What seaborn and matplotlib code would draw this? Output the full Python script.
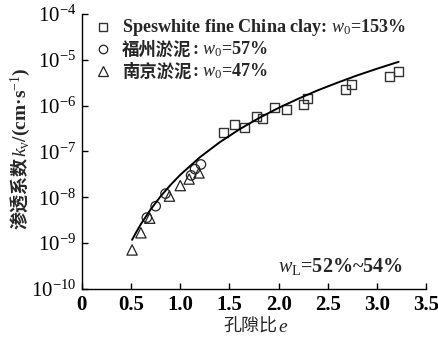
import numpy as np
import pandas as pd
import matplotlib
matplotlib.use("Agg")
import matplotlib.pyplot as plt
import seaborn as sns
from matplotlib.lines import Line2D
from matplotlib.transforms import IdentityTransform
from matplotlib.ticker import FixedLocator, FixedFormatter, NullLocator

# Speswhite fine China clay (w0 = 153%)
e_sp = [1.44, 1.55, 1.65, 1.77, 1.84, 1.96, 2.08, 2.25, 2.29, 2.68, 2.74, 3.13, 3.22]
k_sp = [2.6e-7, 3.8e-7, 3.4e-7, 5.8e-7, 5.1e-7, 8.9e-7, 8.4e-7, 1.07e-6, 1.41e-6,
        2.2e-6, 2.85e-6, 4.2e-6, 5.6e-6]

# Fuzhou silt (w0 = 57%)
e_fz = [0.66, 0.75, 0.85, 1.11, 1.15, 1.21]
k_fz = [3.6e-9, 6.4e-9, 1.2e-8, 3.0e-8, 4.1e-8, 5.2e-8]

# Nanjing silt (w0 = 47%)
e_nj = [0.51, 0.60, 0.69, 0.89, 1.00, 1.09, 1.19]
k_nj = [7.1e-10, 1.68e-9, 3.5e-9, 1.06e-8, 1.8e-8, 2.5e-8, 3.4e-8]

# Trend line through all data
e_fit = [0.51, 0.55, 0.60, 0.70, 0.80, 0.90, 1.00, 1.20, 1.40, 1.60, 1.80, 2.00,
         2.20, 2.40, 2.60, 2.80, 3.00, 3.22]
k_fit = [1.18e-9, 1.70e-9, 2.60e-9, 5.48e-9, 1.05e-8, 1.85e-8, 3.09e-8, 7.48e-8,
         1.58e-7, 3.02e-7, 5.35e-7, 8.91e-7, 1.41e-6, 2.16e-6, 3.17e-6, 4.56e-6,
         6.36e-6, 9.00e-6]

x_ticks = [0, 0.5, 1.0, 1.5, 2.0, 2.5, 3.0, 3.5]
x_labels = ["0", "0.5", "1.0", "1.5", "2.0", "2.5", "3.0", "3.5"]
y_ticks = [1e-10, 1e-9, 1e-8, 1e-7, 1e-6, 1e-5, 1e-4]
y_labels = ["$\\mathdefault{10^{-10}}$", "$\\mathdefault{10^{-9}}$", "$\\mathdefault{10^{-8}}$",
            "$\\mathdefault{10^{-7}}$", "$\\mathdefault{10^{-6}}$", "$\\mathdefault{10^{-5}}$",
            "$\\mathdefault{10^{-4}}$"]

SERIF = ["Liberation Serif"]
CJK = ["Noto Sans CJK SC"]

sns.set_theme(style="ticks")
plt.rcParams["font.family"] = ["Liberation Serif", "Noto Sans CJK SC", "DejaVu Sans"]
plt.rcParams["mathtext.fontset"] = "custom"
plt.rcParams["mathtext.rm"] = "Liberation Serif"
plt.rcParams["mathtext.it"] = "Liberation Serif:italic"
plt.rcParams["mathtext.bf"] = "Liberation Serif:bold"
plt.rcParams["axes.unicode_minus"] = True

W, H = 438, 338
fig = plt.figure(figsize=(W / 100, H / 100), dpi=100)
ax = fig.add_axes([0.187, 0.145, 0.786, 0.814])

df_sp = pd.DataFrame({"e": e_sp, "k": k_sp})
df_fz = pd.DataFrame({"e": e_fz, "k": k_fz})
df_nj = pd.DataFrame({"e": e_nj, "k": k_nj})
df_fit = pd.DataFrame({"e": e_fit, "k": k_fit})

sq_style = dict(marker="s", s=42, facecolor="none", edgecolor="#333333", linewidth=1.0)
ci_style = dict(marker="o", s=46, facecolor="none", edgecolor="#222222", linewidth=0.9)
tr_style = dict(marker="^", s=55, facecolor="none", edgecolor="#222222", linewidth=0.9)

sns.lineplot(data=df_fit, x="e", y="k", ax=ax, color="black", lw=1.4, sort=False)
sns.scatterplot(data=df_sp, x="e", y="k", ax=ax, legend=False, **sq_style)
sns.scatterplot(data=df_fz, x="e", y="k", ax=ax, legend=False, **ci_style)
sns.scatterplot(data=df_nj, x="e", y="k", ax=ax, legend=False, **tr_style)

ax.set_yscale("log")
ax.set_xlim(0, 3.5)
ax.set_ylim(1e-10, 1e-4)
ax.xaxis.set_major_locator(FixedLocator(x_ticks))
ax.xaxis.set_major_formatter(FixedFormatter(x_labels))
ax.yaxis.set_major_locator(FixedLocator(y_ticks))
ax.yaxis.set_major_formatter(FixedFormatter(y_labels))
ax.yaxis.set_minor_locator(NullLocator())
ax.set_xlabel("")
ax.set_ylabel("")

for side in ("top", "right"):
    ax.spines[side].set_visible(False)
for side in ("left", "bottom"):
    ax.spines[side].set_color("black")
    ax.spines[side].set_linewidth(1.0)

ax.tick_params(axis="both", direction="in", length=4.5, width=1.0, colors="black", pad=4)
ax.tick_params(axis="x", labelsize=15)
ax.tick_params(axis="y", labelsize=15)
for lab in ax.get_xticklabels():
    lab.set_fontweight("bold")

renderer = fig.canvas.get_renderer()


def text_run(pieces, x, y, rotation=0, align="left"):
    """Place text pieces one after another on a shared baseline (pixel coords)."""
    arts = []
    for s, kw in pieces:
        t = fig.text(0, 0, s, transform=IdentityTransform(), ha="left", va="baseline",
                     rotation=rotation, rotation_mode="anchor", **kw)
        arts.append(t)
    lengths = []
    for t in arts:
        bb = t.get_window_extent(renderer)
        lengths.append(bb.height if rotation == 90 else bb.width)
    total = sum(lengths)
    pos = -total / 2 if align == "center" else 0.0
    for t, L in zip(arts, lengths):
        if rotation == 90:
            t.set_position((x, y + pos))
        else:
            t.set_position((x + pos, y))
        pos += L
    return arts


# Legend entries drawn by hand
legend_rows = [
    (sq_style, [("Speswhite fine China clay: $w_0$=153%", dict(family=SERIF, fontweight="bold", fontsize=13.1))]),
    (ci_style, [("福州淤泥", dict(family=CJK, fontweight="bold", fontsize=12.5)),
                (": $w_0$=57%", dict(family=SERIF, fontweight="bold", fontsize=13.1))]),
    (tr_style, [("南京淤泥", dict(family=CJK, fontweight="bold", fontsize=12.5)),
                (": $w_0$=47%", dict(family=SERIF, fontweight="bold", fontsize=13.1))]),
]
row_centers = [311, 289, 267]
for (style, pieces), yc in zip(legend_rows, row_centers):
    fig.add_artist(Line2D([103], [yc], transform=IdentityTransform(), marker=style["marker"],
                          markersize=np.sqrt(style["s"]) * 0.9, markerfacecolor="none",
                          markeredgecolor=style["edgecolor"], markeredgewidth=style["linewidth"],
                          linestyle="none"))
    text_run(pieces, 122, yc - 5.5)

# Liquid limit annotation
text_run([("$w_\\mathrm{L}$=52%~54%", dict(family=SERIF, fontweight="bold", fontsize=14.5))], 278, 66)

# Axis titles
text_run([("孔隙比", dict(family=CJK, fontsize=13)),
          ("$e$", dict(family=SERIF, fontsize=14))], 256, 6, align="center")
text_run([("渗透系数", dict(family=CJK, fontweight="bold", fontsize=13)),
          ("$k_\\mathrm{v}$/(cm·s$^{-1}$)", dict(family=SERIF, fontweight="bold", fontsize=14))],
         26, 190, rotation=90, align="center")

fig.savefig("out.png", dpi=100)
